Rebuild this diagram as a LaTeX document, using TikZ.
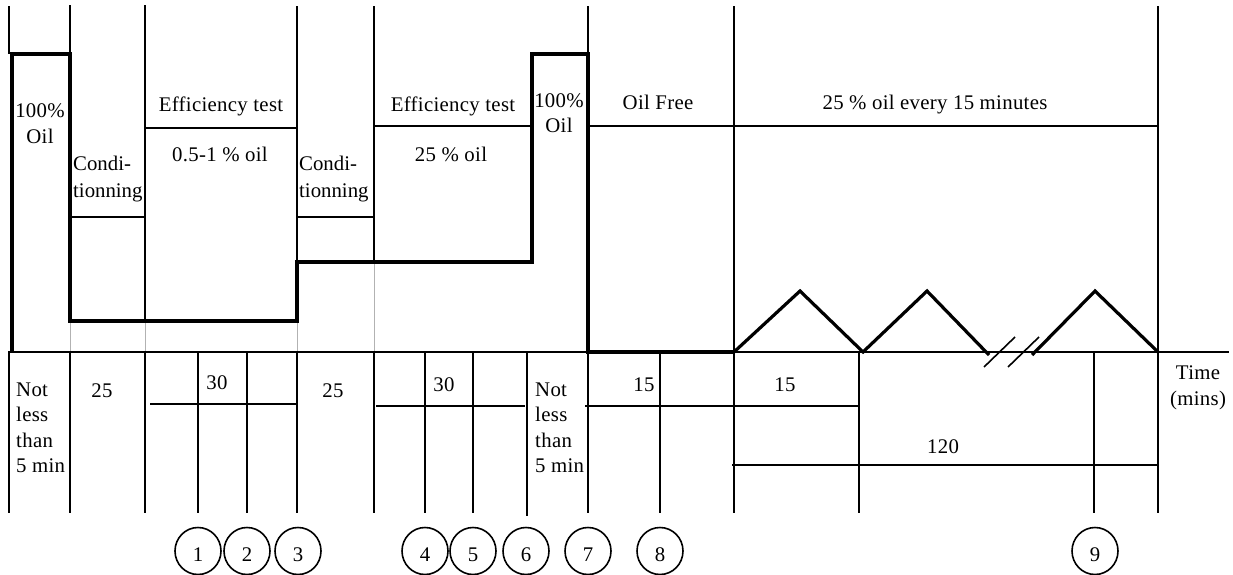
\documentclass[tikz,border=0pt]{standalone}
\usepackage{fontspec}
\setmainfont{Liberation Serif}[LetterSpace=1.5]
\newfontfamily\tightfont{Liberation Serif}
\usetikzlibrary{shapes.geometric}
\begin{document}
\begin{tikzpicture}[x=1pt,y=-1pt,
  thinl/.style={line width=1.6pt,line cap=rect},
  thickl/.style={line width=3.8pt,line join=miter},
  zig/.style={line width=3.2pt,line join=miter},
  grayl/.style={line width=0.6pt,black!30},
  txt/.style={inner sep=0pt,font=\fontsize{20.8pt}{26pt}\selectfont},
  cond/.style={inner sep=0pt,align=left,anchor=west,font=\tightfont\fontsize{20.8pt}{27pt}\selectfont},
  lbl/.style={txt,anchor=base},
  circ/.style={draw,ellipse,line width=1.6pt,minimum width=46pt,minimum height=47pt,inner sep=0pt}]
\useasboundingbox (0,0) rectangle (1233,575);
% ---- grey connectors
\draw[grayl] (70,321) -- (70,352) (145,321) -- (145,352) (297,321) -- (297,352) (374,262) -- (374,352);
% ---- thin verticals (upper)
\draw[thinl] (9,7) -- (9,53) (70,6) -- (70,53) (145,6) -- (145,321)
  (297,7) -- (297,262) (374,7) -- (374,262) (588,7) -- (588,53)
  (734,7) -- (734,512) (1158,7) -- (1158,512);
% ---- thin verticals (lower)
\foreach \x in {9,70,145,198,247,297,374,425,473,588,660,859,1094}
  \draw[thinl] (\x,352) -- (\x,512);
\draw[thinl] (527,352) -- (527,515);
% ---- horizontal lines
\draw[thinl] (9,352) -- (1228,352);
\draw[thinl] (145,128) -- (297,128);
\draw[thinl] (374,126) -- (532,126);
\draw[thinl] (588,126) -- (1158,126);
\draw[thinl] (70,217) -- (145,217) (297,217) -- (373,217);
\draw[thinl] (151,404) -- (297,404);
\draw[thinl] (377,406) -- (524,406);
\draw[thinl] (586,406) -- (859,406);
\draw[thinl] (733,465) -- (1158,465);
% ---- step (oil level)
\draw[thickl] (12,352) -- (12,54) -- (70,54) -- (70,321) -- (297,321) -- (297,262)
  -- (532,262) -- (532,54) -- (588,54) -- (588,352) -- (734,352);
% ---- zigzag
\draw[zig] (734,352) -- (800,291) -- (863,352) -- (927,291) -- (989,355);
\draw[zig] (1032,355) -- (1095,291) -- (1158,352);
\draw[thinl,line cap=butt] (984,367) -- (1015,337) (1008,367) -- (1039,337);
% ---- upper texts
\node[txt,align=center] (o1) at (40,124) {100\%\\Oil};
\node[cond] (cd1) at (73,179) {Condi-\\tionning};
\node[lbl] (e1) at (221,111) {Efficiency test};
\node[lbl] (p1) at (220,161) {0.5-1 \% oil};
\node[cond] (cd2) at (299,179) {Condi-\\tionning};
\node[lbl] (e2) at (453,111) {Efficiency test};
\node[lbl] (p2) at (451,161) {25 \% oil};
\node[txt,align=center,font=\fontsize{20.8pt}{25pt}\selectfont] (o2) at (559,113) {100\%\\Oil};
\node[lbl] (of) at (658,110) {Oil Free};
\node[lbl] (ev) at (935,110) {25 \% oil every 15 minutes};
% ---- lower texts
\node[txt,align=left,anchor=west,font=\fontsize{20.8pt}{25.5pt}\selectfont] (n1) at (16,428) {Not\\less\\than\\5 min};
\node[txt,align=left,anchor=west,font=\fontsize{20.8pt}{25.5pt}\selectfont] (n2) at (535,428) {Not\\less\\than\\5 min};
\node[lbl] (t25a) at (102,397) {25};
\node[lbl] (t30a) at (217,389) {30};
\node[lbl] (t25b) at (333,397) {25};
\node[lbl] (t30b) at (444,391) {30};
\node[lbl] (t15a) at (644,391) {15};
\node[lbl] (t15b) at (785,391) {15};
\node[lbl] (t120) at (943,453) {120};
\node[txt,align=center] (tm) at (1198,388) {Time\\(mins)};
% ---- numbered circles
\foreach \n/\x in {1/198,2/247,3/298,4/425,5/473,6/526,7/588,8/660,9/1095}{
  \node[circ] (c\n) at (\x,551) {};
  \node[txt] (d\n) at (\x,555) {\n};
}
\end{tikzpicture}
\end{document}
